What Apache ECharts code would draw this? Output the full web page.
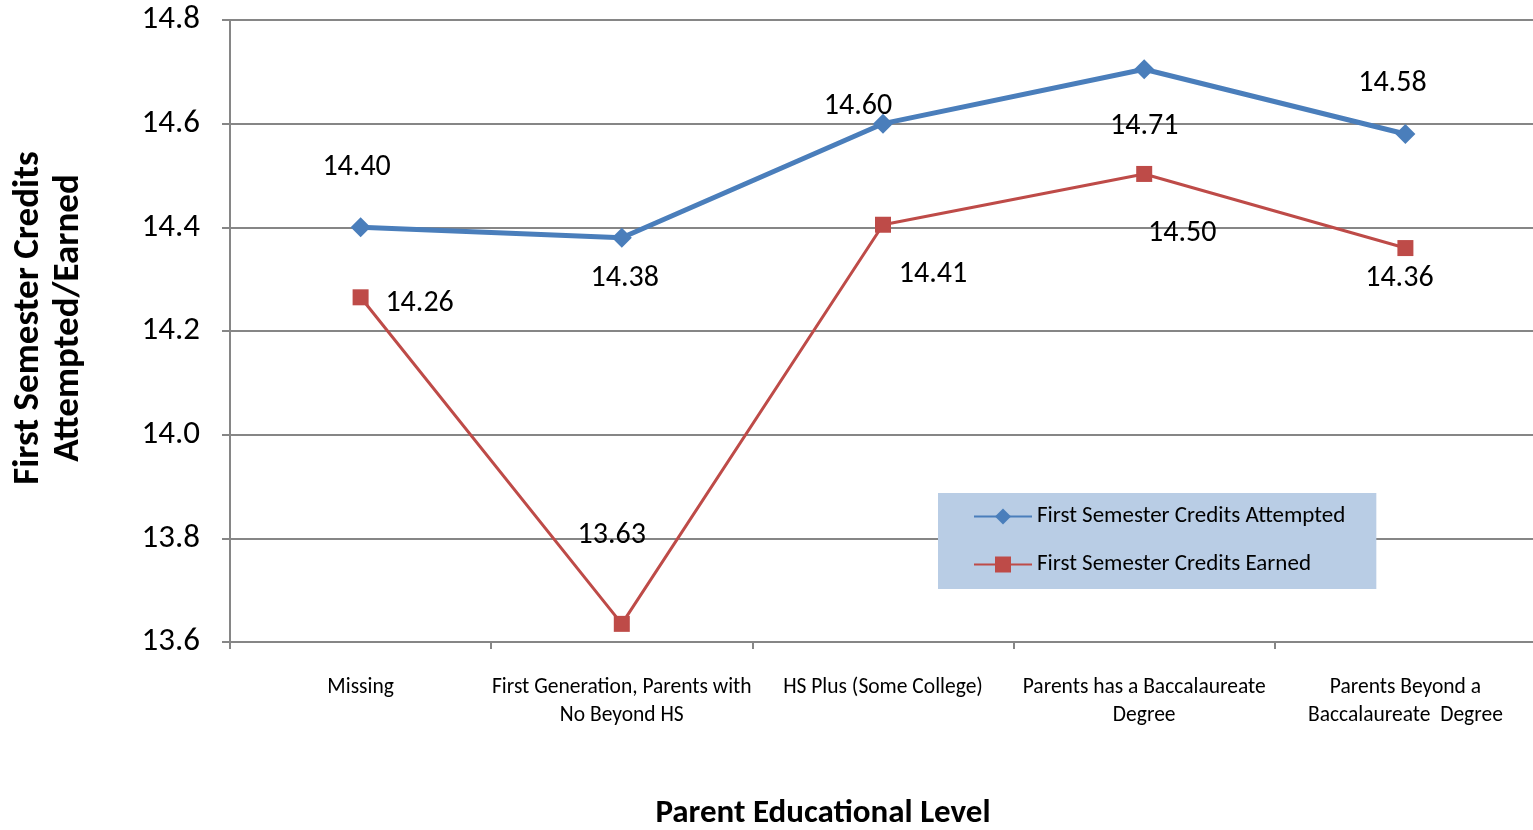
<!DOCTYPE html>
<html>
<head>
<meta charset="utf-8">
<script src="https://cdn.jsdelivr.net/npm/echarts@6/dist/echarts.min.js"></script>
<style>
  html, body { margin: 0; padding: 0; background: #fff; }
  #chart { width: 1533px; height: 830px; }
</style>
</head>
<body>
<div id="chart"></div>
<script>
// categories on x axis
var categories = [
  "Missing",
  "First Generation, Parents with\nNo Beyond HS",
  "HS Plus (Some College)",
  "Parents has a Baccalaureate\nDegree",
  "Parents Beyond a\nBaccalaureate  Degree"
];
var attempted = [14.40, 14.38, 14.60, 14.705, 14.58];
var attemptedLabels = ["14.40", "14.38", "14.60", "14.71", "14.58"];
var earned = [14.265, 13.635, 14.405, 14.503, 14.36];
var earnedLabels = ["14.26", "13.63", "14.41", "14.50", "14.36"];

// label offsets (px) from each point
var attemptedOffsets = [[-4, -60], [3, 41], [-25, -17], [0, 57], [-13, -51]];
var earnedOffsets = [[59, 6], [-10, -88], [50, 50], [38, 60], [-6, 30]];

var FONT = "Carlito, Lato, 'Liberation Sans', sans-serif";
var GRAY = "#868686";

function buildData(values, labels, offsets) {
  return values.map(function (v, i) {
    return {
      value: v,
      label: { formatter: labels[i], offset: offsets[i] }
    };
  });
}

var chart = echarts.init(document.getElementById("chart"));
var option = {
  animation: false,
  textStyle: { fontFamily: FONT },
  grid: { left: 230, right: -3, top: 20, bottom: 188, containLabel: false, outerBoundsMode: "none" },
  legend: {
    orient: "vertical",
    left: 938,
    top: 493,
    backgroundColor: "#b9cde5",
    padding: [12, 31, 13, 35],
    itemGap: 25,
    itemWidth: 58,
    itemHeight: 20,
    textStyle: { fontSize: 23, color: "#000", fontFamily: FONT },
    data: ["First Semester Credits Attempted", "First Semester Credits Earned"]
  },
  xAxis: {
    type: "category",
    data: categories,
    boundaryGap: true,
    axisLine: { lineStyle: { color: GRAY, width: 2 } },
    axisTick: { show: true, interval: 0, length: 7, lineStyle: { color: GRAY, width: 2 } },
    axisLabel: { interval: 0, fontSize: 21.5, lineHeight: 28, color: "#000", margin: 32 },
    name: "Parent Educational Level",
    nameLocation: "middle",
    nameGap: 155,
    nameTextStyle: { fontSize: 33, fontWeight: "bold", color: "#000", padding: [0, 120, 0, 0] }
  },
  yAxis: {
    type: "value",
    min: 13.6,
    max: 14.8,
    interval: 0.2,
    axisLine: { show: true, lineStyle: { color: GRAY, width: 2 } },
    axisTick: { show: true, length: 8, lineStyle: { color: GRAY, width: 2 } },
    axisLabel: {
      fontSize: 33,
      color: "#000",
      margin: 30,
      formatter: function (v) { return v.toFixed(1); }
    },
    splitLine: { lineStyle: { color: GRAY, width: 2 } },
    name: "First Semester Credits\nAttempted/Earned",
    nameLocation: "middle",
    nameRotate: 90,
    nameGap: 141,
    nameTextStyle: { fontSize: 37, fontWeight: "bold", color: "#000", lineHeight: 40, padding: [0, 0, 0, 26] }
  },
  series: [
    {
      name: "First Semester Credits Attempted",
      type: "line",
      data: buildData(attempted, attemptedLabels, attemptedOffsets),
      color: "#4a7ebb",
      lineStyle: { width: 5, color: "#4a7ebb" },
      symbol: "diamond",
      symbolSize: 20,
      itemStyle: { color: "#4a7ebb" },
      label: { show: true, position: "inside", fontSize: 30, color: "#000" },
      z: 3
    },
    {
      name: "First Semester Credits Earned",
      type: "line",
      data: buildData(earned, earnedLabels, earnedOffsets),
      color: "#be4b48",
      lineStyle: { width: 3, color: "#be4b48" },
      symbol: "rect",
      symbolSize: 16,
      itemStyle: { color: "#be4b48" },
      label: { show: true, position: "inside", fontSize: 30, color: "#000" },
      z: 2
    }
  ]
};
chart.setOption(option);
</script>
</body>
</html>
